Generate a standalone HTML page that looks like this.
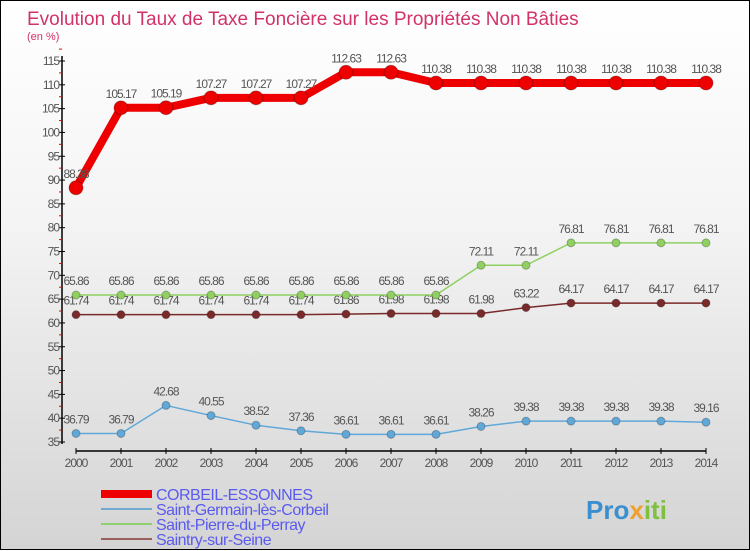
<!DOCTYPE html>
<html><head><meta charset="utf-8"><style>
body{margin:0;width:750px;height:550px;overflow:hidden;font-family:"Liberation Sans",sans-serif}
#wrap{position:relative;width:748px;height:548px;border:1px solid #000;background:linear-gradient(#fff,#f4f4f4 40%,#d4d4d4)}
svg{position:absolute;left:0;top:0}
</style></head><body>
<div id="wrap">
<svg id="c" width="750" height="550">
<text x="26" y="24" font-size="19" fill="#d2326a">Evolution du Taux de Taxe Foncière sur les Propriétés Non Bâties</text>
<text x="26" y="39" font-size="11" fill="#d2326a">(en %)</text>
<text x="585" y="518" font-size="26" font-weight="bold" fill="#3a8fd0">Pro<tspan fill="#f0a030">x</tspan><tspan fill="#80c040">iti</tspan></text>
</svg>
</div>
<script>
const years=[2000,2001,2002,2003,2004,2005,2006,2007,2008,2009,2010,2011,2012,2013,2014];
const corbeil=[88.38,105.17,105.19,107.27,107.27,107.27,112.63,112.63,110.38,110.38,110.38,110.38,110.38,110.38,110.38];
const stGermain=[36.79,36.79,42.68,40.55,38.52,37.36,36.61,36.61,36.61,38.26,39.38,39.38,39.38,39.38,39.16];
const stPierre=[65.86,65.86,65.86,65.86,65.86,65.86,65.86,65.86,65.86,72.11,72.11,76.81,76.81,76.81,76.81];
const saintry=[61.74,61.74,61.74,61.74,61.74,61.74,61.86,61.98,61.98,61.98,63.22,64.17,64.17,64.17,64.17];
const yTicks=[35,40,45,50,55,60,65,70,75,80,85,90,95,100,105,110,115];
const names=["CORBEIL-ESSONNES","Saint-Germain-lès-Corbeil","Saint-Pierre-du-Perray","Saintry-sur-Seine"];
const svg=document.getElementById('c');const NS="http://www.w3.org/2000/svg";
const X=i=>75+i*(630/(years.length-1));
const Y=v=>441-(v-35)*(381/80);
function mk(t,a,p){const e=document.createElementNS(NS,t);for(const k in a)e.setAttribute(k,a[k]);(p||svg).appendChild(e);return e;}
let ax=mk('line',{x1:61,y1:55,x2:61,y2:443,stroke:'#000','stroke-width':1.5});


let xa=mk('line',{x1:75,y1:450,x2:705,y2:450,stroke:'#000','stroke-width':1.5});


yTicks.forEach(v=>{mk('line',{x1:58,x2:64,y1:Y(v),y2:Y(v),stroke:'#000'});
mk('line',{x1:58,x2:61,y1:Y(v+2.5),y2:Y(v+2.5),stroke:'#e00'});
const t=mk('text',{x:58,y:Y(v)+4,'font-size':12,'text-anchor':'end',fill:'#555','letter-spacing':'-1'});t.textContent=v;

});
years.forEach((y,i)=>{mk('line',{x1:X(i),x2:X(i),y1:447,y2:453,stroke:'#000'});
const t=mk('text',{x:X(i),y:466,'font-size':12,'text-anchor':'middle',fill:'#555','letter-spacing':'-1'});t.textContent=y;

});
function series(vals,color,w,r,name){
const g=mk('g',{});


mk('polyline',{points:vals.map((v,i)=>X(i)+','+Y(v)).join(' '),fill:'none',stroke:color,'stroke-width':w,'stroke-linejoin':'round'},g);
vals.forEach((v,i)=>{const c=mk('circle',{cx:X(i),cy:Y(v),r:r,fill:color,stroke:'rgba(0,0,0,0.25)'},g);


const t=mk('text',{x:X(i),y:Y(v)-10,'font-size':12,'text-anchor':'middle',fill:'#555','letter-spacing':'-1'},g);t.textContent=v;

});}
series(saintry,'#7a2a2a',1.5,4,'series-saintry');
series(stPierre,'#8fd060',1.5,4,'series-saint-pierre');
series(stGermain,'#60a8d8',1.5,4,'series-saint-germain');
series(corbeil,'#ee0000',8,7,'series-corbeil');
const lc=['#ee0000','#70aad0','#90d070','#9a6060'],lw=[8,2,2,2];
names.forEach((n,i)=>{const y=493+i*15;
const l=mk('line',{x1:100,x2:151,y1:y,y2:y,stroke:lc[i],'stroke-width':lw[i]});


const t=mk('text',{x:155,y:y+6,'font-size':16,fill:'#5a5af0','letter-spacing':'-0.5'});t.textContent=n;

});
</script>
</body></html>
